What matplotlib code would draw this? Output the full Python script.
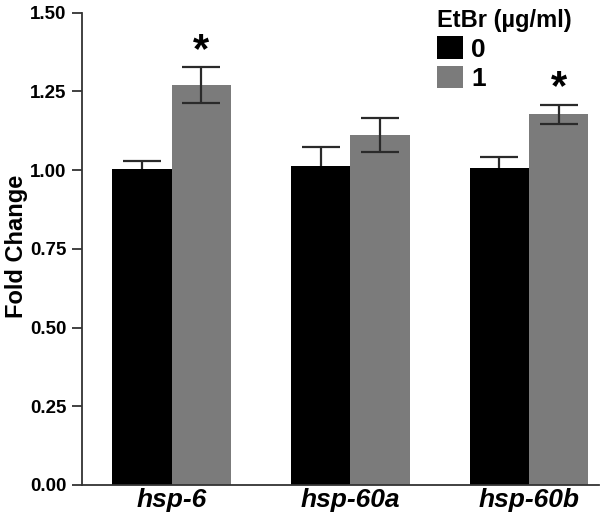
import matplotlib
matplotlib.use("Agg")
import matplotlib.pyplot as plt
import numpy as np
from matplotlib.patches import Patch

genes = ["hsp-6", "hsp-60a", "hsp-60b"]
doses = ["0", "1"]
mean_0 = [1.005, 1.013, 1.006]
err_0 = [0.025, 0.060, 0.036]
mean_1 = [1.271, 1.111, 1.177]
err_1 = [0.057, 0.054, 0.031]
signif_1 = [True, False, True]
yticks = [0.00, 0.25, 0.50, 0.75, 1.00, 1.25, 1.50]

plt.rcParams['font.family'] = ['Liberation Sans', 'DejaVu Sans']

fig = plt.figure(figsize=(6.0, 5.15), dpi=100)
ax = fig.add_axes([0.1367, 0.0583, 0.8613, 0.917])

x = np.arange(len(genes))
w = 0.332
c0, c1 = '#000000', '#7b7b7b'
ecol = '#2a2a2a'
ax.bar(x - w / 2, mean_0, w, color=c0, zorder=2)
ax.bar(x + w / 2, mean_1, w, color=c1, zorder=2)
ax.errorbar(x - w / 2, mean_0, yerr=err_0, fmt='none', ecolor=ecol,
            elinewidth=1.6, capsize=14, capthick=1.6, zorder=1)
ax.errorbar(x + w / 2, mean_1, yerr=err_1, fmt='none', ecolor=ecol,
            elinewidth=1.6, capsize=14, capthick=1.6, zorder=3)
for xi, m, e, s in zip(x, mean_1, err_1, signif_1):
    if s:
        ax.text(xi + w / 2, m + e - 0.012, '*', ha='center', va='bottom',
                fontsize=30, fontweight='bold')

ax.set_xlim(-0.502, 2.39)
ax.set_ylim(0, 1.5)
ax.set_yticks(yticks)
ax.set_yticklabels([f"{t:.2f}" for t in yticks], fontsize=13.5, fontweight='bold')
ax.set_xticks(x)
ax.set_xticklabels(genes, fontsize=19, fontweight='bold', style='italic')
ax.tick_params(axis='x', length=0, pad=2)
ax.tick_params(axis='y', length=7, width=1.3, color='#333333', pad=4)
fig.text(0.028, 0.522, 'Fold Change', rotation=90, ha='center', va='center',
         fontsize=17, fontweight='bold')
for sp in ['top', 'right']:
    ax.spines[sp].set_visible(False)
for sp in ['left', 'bottom']:
    ax.spines[sp].set_color('#333333')
    ax.spines[sp].set_linewidth(1.3)

handles = [Patch(facecolor=c0), Patch(facecolor=c1)]
leg = ax.legend(handles, doses, title='EtBr (µg/ml)', loc='upper left',
                bbox_to_anchor=(0.697, 1.018), bbox_transform=fig.transFigure,
                frameon=False, handlelength=1.0, handleheight=0.95,
                handletextpad=0.3, labelspacing=0.15, borderpad=0.2,
                prop={'size': 19, 'weight': 'bold'},
                title_fontproperties={'size': 17, 'weight': 'bold'})
leg._legend_box.align = 'left'

fig.savefig('out.png', dpi=100)
